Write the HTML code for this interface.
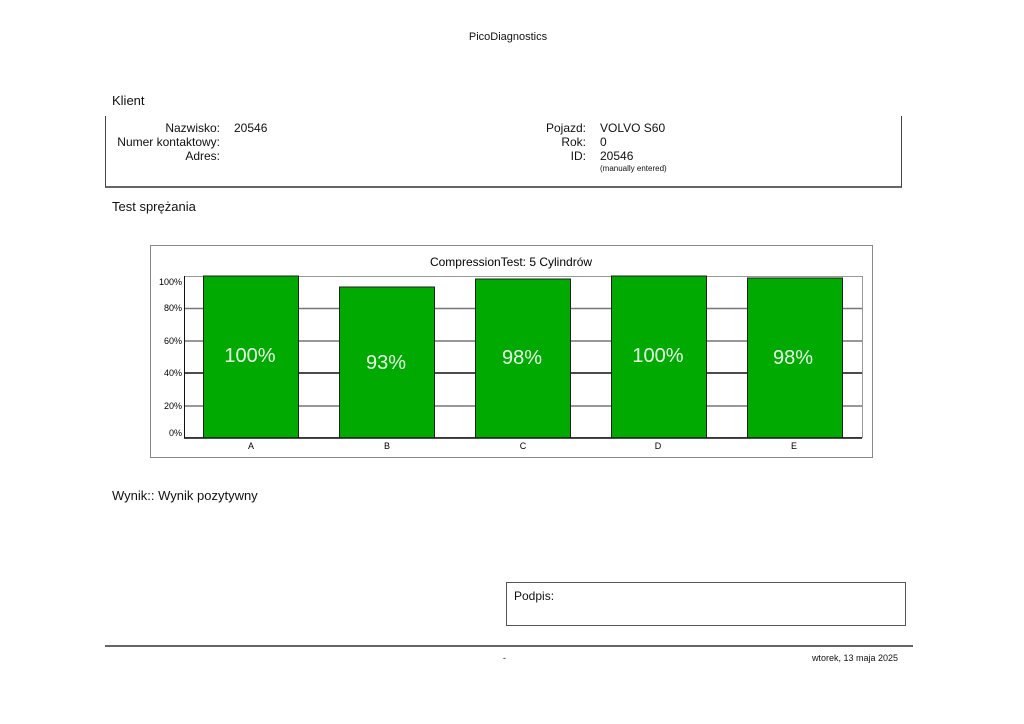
<!DOCTYPE html>
<html><head><meta charset="utf-8"><style>
body{margin:0;width:1024px;height:724px;background:#fff;position:relative;font-family:"Liberation Sans",Arial,sans-serif;color:#111;overflow:hidden}
.a{position:absolute;white-space:nowrap}
.r{text-align:right}
</style></head><body>
<div class="a" style="left:0;width:1016px;top:31px;text-align:center;font-size:11px">PicoDiagnostics</div>
<div class="a" style="left:112px;top:93px;font-size:13px">Klient</div>
<div class="a" style="left:105px;top:116px;width:795px;height:70px;border-left:1px solid #444;border-right:1px solid #444;border-bottom:2px solid #666"></div>
<div class="a r" style="left:100px;width:120px;top:121px;font-size:12px;line-height:14px">Nazwisko:<br>Numer kontaktowy:<br>Adres:</div>
<div class="a" style="left:234px;top:121px;font-size:12px;line-height:14px">20546</div>
<div class="a r" style="left:500px;width:86px;top:121px;font-size:12px;line-height:14px">Pojazd:<br>Rok:<br>ID:</div>
<div class="a" style="left:600px;top:121px;font-size:12px;line-height:14px">VOLVO S60<br>0<br>20546</div>
<div class="a" style="left:600px;top:164px;font-size:8px">(manually entered)</div>
<div class="a" style="left:112px;top:199px;font-size:13px">Test sprężania</div>
<svg class="a" style="left:0;top:0" width="1024" height="724">
<rect x="150.5" y="245.5" width="722" height="212" fill="#fff" stroke="#888"/>
<text x="511" y="266" font-size="12" text-anchor="middle" font-family="Liberation Sans,Arial,sans-serif">CompressionTest: 5 Cylindrów</text>
<rect x="184.5" y="276.5" width="678" height="161" fill="none" stroke="#999"/>
<g stroke-width="1.5">
<line x1="184" x2="862" y1="308.5" y2="308.5" stroke="#777"/>
<line x1="184" x2="862" y1="341" y2="341" stroke="#777"/>
<line x1="184" x2="862" y1="373" y2="373" stroke="#111"/>
<line x1="184" x2="862" y1="406" y2="406" stroke="#777"/>
</g>
<g fill="#00aa00" stroke="#222" stroke-width="1">
<rect x="203.5" y="276" width="95" height="162"/>
<rect x="339.5" y="287" width="95" height="151"/>
<rect x="475.5" y="279" width="95" height="159"/>
<rect x="611.5" y="276" width="95" height="162"/>
<rect x="747.5" y="278" width="95" height="160"/>
</g>
<line x1="184" x2="862" y1="438" y2="438" stroke="#111" stroke-width="1.5"/>
<line x1="184.5" x2="184.5" y1="276" y2="438" stroke="#111"/>
<g font-size="20" fill="#e8ffe8" text-anchor="middle" font-family="Liberation Sans,Arial,sans-serif">
<text x="250" y="362">100%</text><text x="386" y="369">93%</text><text x="522" y="364">98%</text><text x="658" y="362">100%</text><text x="793" y="364">98%</text>
</g>
<g font-size="9" text-anchor="end" font-family="Liberation Sans,Arial,sans-serif">
<text x="182" y="285">100%</text><text x="182" y="311">80%</text><text x="182" y="344">60%</text><text x="182" y="376">40%</text><text x="182" y="409">20%</text><text x="182" y="436">0%</text>
</g>
<g font-size="9" text-anchor="middle" font-family="Liberation Sans,Arial,sans-serif">
<text x="251" y="449">A</text><text x="387" y="449">B</text><text x="523" y="449">C</text><text x="658" y="449">D</text><text x="794" y="449">E</text>
</g>
<rect x="506.5" y="582.5" width="399" height="43" fill="none" stroke="#555"/>
<line x1="105" x2="913" y1="646" y2="646" stroke="#666" stroke-width="2"/>
</svg>
<div class="a" style="left:112px;top:488px;font-size:13px">Wynik:: Wynik pozytywny</div>
<div class="a" style="left:514px;top:589px;font-size:12px">Podpis:</div>
<div class="a" style="left:503px;top:653px;font-size:9px">-</div>
<div class="a r" style="left:700px;width:198px;top:653px;font-size:9px">wtorek, 13 maja 2025</div>
</body></html>
